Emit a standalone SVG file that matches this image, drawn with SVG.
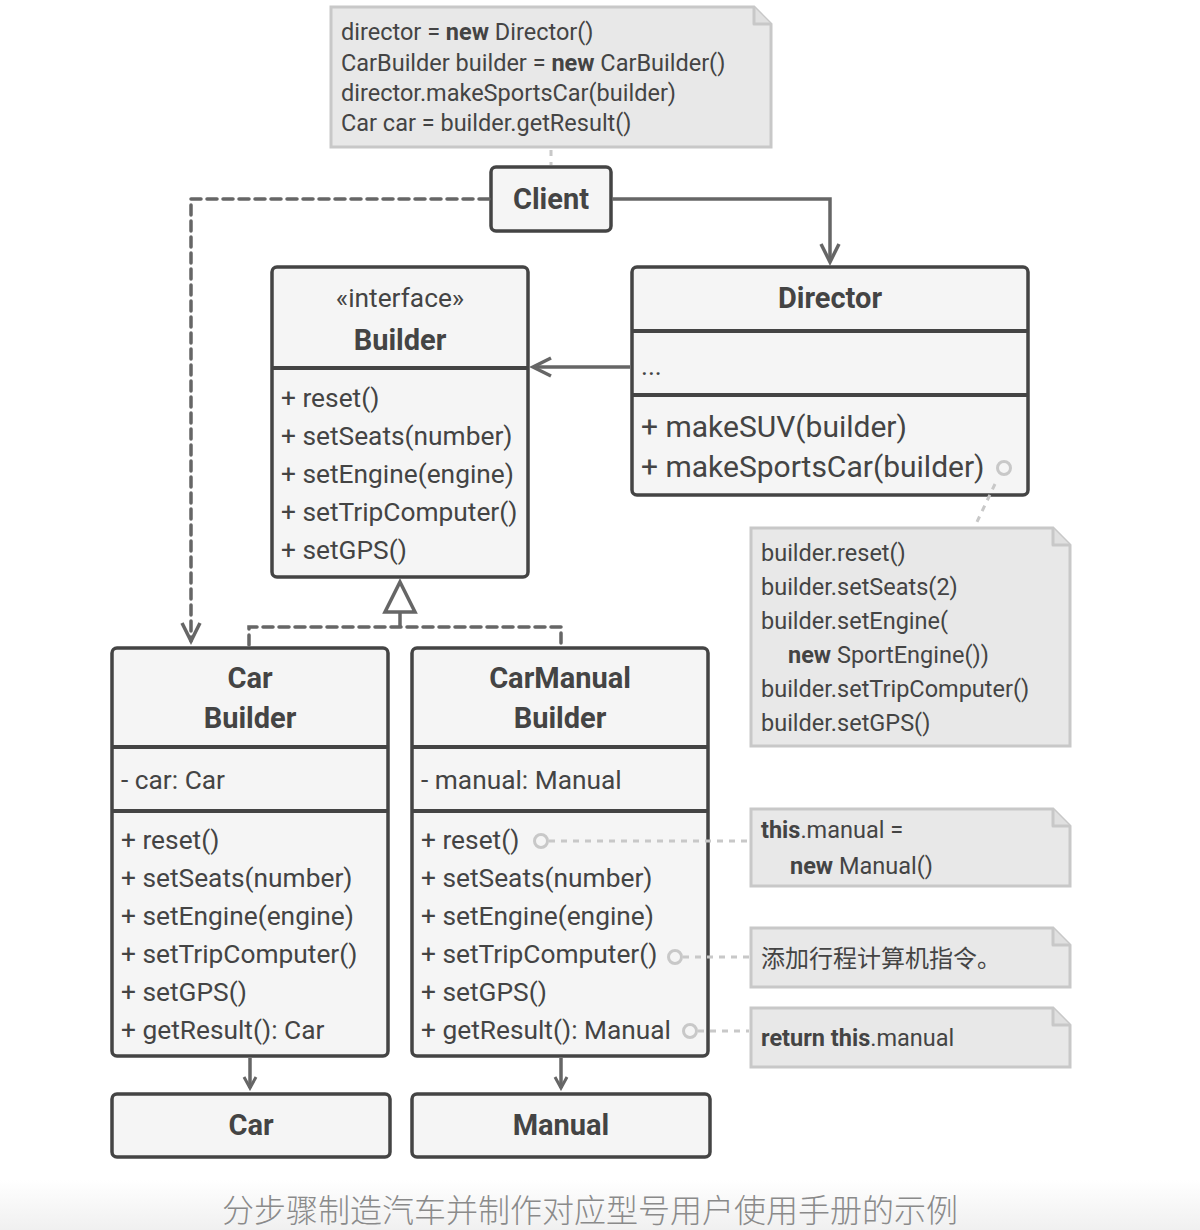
<svg xmlns="http://www.w3.org/2000/svg" width="1200" height="1230" viewBox="0 0 1200 1230">
<defs>
<style>
text{font-family:"Roboto","Liberation Sans",sans-serif;fill:#444}
.box{fill:#f5f5f5;stroke:#444;stroke-width:3.5}
.div{stroke:#444;stroke-width:4}
.note{fill:#e8e8e8;stroke:#c8c8c8;stroke-width:3}
.fold{fill:#e0e0e0;stroke:#c8c8c8;stroke-width:3;stroke-linejoin:round}
.t{font-size:26.3px}
.tb{font-size:29px;font-weight:bold;text-anchor:middle}
.tn{font-size:23.5px}
.big{font-size:30px}
.line{fill:none;stroke:#666;stroke-width:3.5}
.dash{fill:none;stroke:#666;stroke-width:3.5;stroke-dasharray:10 6;stroke-linecap:round}
.dot{fill:none;stroke:#c8c8c8;stroke-width:3;stroke-dasharray:6 6}
.circ{fill:#f5f5f5;stroke:#c8c8c8;stroke-width:3}
</style>
<marker id="open" markerWidth="24" markerHeight="24" refX="20" refY="12" orient="auto" markerUnits="userSpaceOnUse">
<path d="M2,3 L20,12 L2,21" fill="none" stroke="#666" stroke-width="3.5"/>
</marker>
<marker id="small" markerWidth="16" markerHeight="16" refX="13" refY="8" orient="auto" markerUnits="userSpaceOnUse">
<path d="M2,2 L13,8 L2,14" fill="none" stroke="#666" stroke-width="3"/>
</marker>
<linearGradient id="bg" x1="0" y1="0" x2="0" y2="1">
<stop offset="0" stop-color="#ffffff"/>
<stop offset="1" stop-color="#f0f0f0"/>
</linearGradient>
</defs>
<rect x="0" y="0" width="1200" height="1230" fill="#fff"/>
<rect x="0" y="1180" width="1200" height="50" fill="url(#bg)"/>

<g id="note-client">
<path class="note" d="M331,7 H754 L771,24 V147 H331 Z"/>
<path class="fold" d="M754,7 V24 H771"/>
<text class="tn" x="341" y="40">director = <tspan font-weight="bold">new</tspan> Director()</text>
<text class="tn" x="341" y="71">CarBuilder builder = <tspan font-weight="bold">new</tspan> CarBuilder()</text>
<text class="tn" x="341" y="101">director.makeSportsCar(builder)</text>
<text class="tn" x="341" y="131">Car car = builder.getResult()</text>
</g>

<g id="client">
<rect class="box" x="491" y="167" width="120" height="64" rx="5"/>
<text class="tb" x="551" y="209">Client</text>
</g>

<g id="builder">
<rect class="box" x="272" y="267" width="256" height="310" rx="5"/>
<line class="div" x1="272" y1="368" x2="528" y2="368"/>
<text class="t" x="400" y="307" text-anchor="middle">«interface»</text>
<text class="tb" x="400" y="350">Builder</text>
<text class="t" x="281" y="407">+ reset()</text>
<text class="t" x="281" y="445">+ setSeats(number)</text>
<text class="t" x="281" y="483">+ setEngine(engine)</text>
<text class="t" x="281" y="521">+ setTripComputer()</text>
<text class="t" x="281" y="559">+ setGPS()</text>
</g>

<g id="director">
<rect class="box" x="632" y="267" width="396" height="228" rx="5"/>
<line class="div" x1="632" y1="331" x2="1028" y2="331"/>
<line class="div" x1="632" y1="395" x2="1028" y2="395"/>
<text class="tb" x="830" y="308">Director</text>
<text class="t" x="641" y="375">...</text>
<text class="big" x="641" y="437">+ makeSUV(builder)</text>
<text class="big" x="641" y="477">+ makeSportsCar(builder)</text>
</g>

<g id="note-director">
<path class="note" d="M751,528 H1053 L1070,545 V746 H751 Z"/>
<path class="fold" d="M1053,528 V545 H1070"/>
<text class="tn" x="761" y="561">builder.reset()</text>
<text class="tn" x="761" y="595">builder.setSeats(2)</text>
<text class="tn" x="761" y="629">builder.setEngine(</text>
<text class="tn" x="788" y="663"><tspan font-weight="bold">new</tspan> SportEngine())</text>
<text class="tn" x="761" y="697">builder.setTripComputer()</text>
<text class="tn" x="761" y="731">builder.setGPS()</text>
</g>

<g id="car-builder">
<rect class="box" x="112" y="648" width="276" height="408" rx="5"/>
<line class="div" x1="112" y1="747" x2="388" y2="747"/>
<line class="div" x1="112" y1="811" x2="388" y2="811"/>
<text class="tb" x="250" y="688">Car</text>
<text class="tb" x="250" y="728">Builder</text>
<text class="t" x="121" y="789">- car: Car</text>
<text class="t" x="121" y="849">+ reset()</text>
<text class="t" x="121" y="887">+ setSeats(number)</text>
<text class="t" x="121" y="925">+ setEngine(engine)</text>
<text class="t" x="121" y="963">+ setTripComputer()</text>
<text class="t" x="121" y="1001">+ setGPS()</text>
<text class="t" x="121" y="1039">+ getResult(): Car</text>
</g>

<g id="car-manual-builder">
<rect class="box" x="412" y="648" width="296" height="408" rx="5"/>
<line class="div" x1="412" y1="747" x2="708" y2="747"/>
<line class="div" x1="412" y1="811" x2="708" y2="811"/>
<text class="tb" x="560" y="688">CarManual</text>
<text class="tb" x="560" y="728">Builder</text>
<text class="t" x="421" y="789">- manual: Manual</text>
<text class="t" x="421" y="849">+ reset()</text>
<text class="t" x="421" y="887">+ setSeats(number)</text>
<text class="t" x="421" y="925">+ setEngine(engine)</text>
<text class="t" x="421" y="963">+ setTripComputer()</text>
<text class="t" x="421" y="1001">+ setGPS()</text>
<text class="t" x="421" y="1039">+ getResult(): Manual</text>
</g>

<g id="note-reset">
<path class="note" d="M751,809 H1053 L1070,826 V886 H751 Z"/>
<path class="fold" d="M1053,809 V826 H1070"/>
<text class="tn" x="761" y="838"><tspan font-weight="bold">this</tspan>.manual =</text>
<text class="tn" x="790" y="874"><tspan font-weight="bold">new</tspan> Manual()</text>
</g>

<g id="note-trip">
<path class="note" d="M751,928 H1053 L1070,945 V987 H751 Z"/>
<path class="fold" d="M1053,928 V945 H1070"/>
<text class="tn" x="761" y="967" style="font-family:'Noto Sans CJK SC',sans-serif;font-size:24px">添加行程计算机指令。</text>
</g>

<g id="note-result">
<path class="note" d="M751,1008 H1053 L1070,1025 V1067 H751 Z"/>
<path class="fold" d="M1053,1008 V1025 H1070"/>
<text class="tn" x="761" y="1046"><tspan font-weight="bold">return this</tspan>.manual</text>
</g>

<g id="car">
<rect class="box" x="112" y="1094" width="278" height="63" rx="5"/>
<text class="tb" x="251" y="1135">Car</text>
</g>

<g id="manual">
<rect class="box" x="412" y="1094" width="298" height="63" rx="5"/>
<text class="tb" x="561" y="1135">Manual</text>
</g>

<g id="connectors">
<path class="dot" d="M551,150 V165"/>
<path class="dash" d="M489,199 H191 V641" marker-end="url(#open)"/>
<path class="line" d="M612,199 H830 V262" marker-end="url(#open)"/>
<path class="line" d="M630,367 H533" marker-end="url(#open)"/>
<path class="dot" d="M995,484 L976,524"/>
<path class="dash" d="M249,645 V627 H561 V645"/>
<path class="line" d="M400,627 V612"/>
<path d="M400,582 L415,612 L385,612 Z" fill="#fff" stroke="#666" stroke-width="3.5" stroke-linejoin="miter"/>
<path class="dot" d="M549,841 H749"/>
<path class="dot" d="M683,957 H749"/>
<path class="dot" d="M698,1031 H749"/>
<path class="line" d="M250,1058 V1088" marker-end="url(#small)"/>
<path class="line" d="M561,1058 V1088" marker-end="url(#small)"/>
<circle class="circ" cx="1004" cy="468" r="6.5"/>
<circle class="circ" cx="541" cy="841" r="6.5"/>
<circle class="circ" cx="675" cy="957" r="6.5"/>
<circle class="circ" cx="690" cy="1031" r="6.5"/>
</g>

<text x="590" y="1222" text-anchor="middle" style="font-family:'Noto Sans CJK SC',sans-serif;font-size:32px;fill:#8a8a8a;font-weight:300">分步骤制造汽车并制作对应型号用户使用手册的示例</text>
</svg>
